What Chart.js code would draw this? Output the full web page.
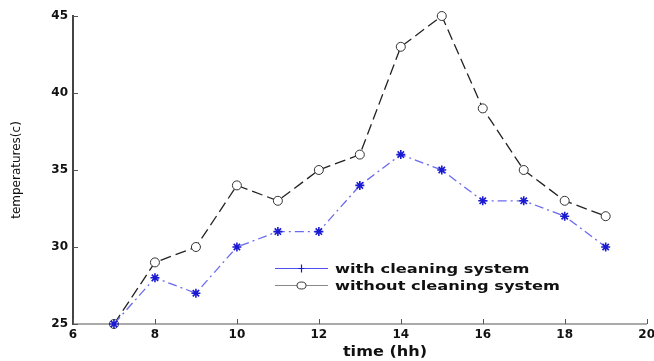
<!DOCTYPE html>
<html>
<head>
<meta charset="utf-8">
<script src="https://cdn.jsdelivr.net/npm/chart.js@4.4.1/dist/chart.umd.min.js"></script>
<style>
  html, body { margin: 0; padding: 0; background: #fff; overflow: hidden; }
  #wrap { width: 654px; height: 361px; position: relative; overflow: hidden; }
</style>
</head>
<body>
<div id="wrap"><canvas id="c" width="659" height="361"></canvas></div>
<script>
// ---- data ----
const hours = [7, 8, 9, 10, 11, 12, 13, 14, 15, 16, 17, 18, 19];
const withCleaning = [25, 28, 27, 30, 31, 31, 34, 36, 35, 33, 33, 32, 30];
const withoutCleaning = [25, 29, 30, 34, 33, 35, 36, 43, 45, 39, 35, 33, 32];
const seriesLabels = ['with cleaning system', 'without cleaning system'];
const xTitle = 'time (hh)';
const yTitle = 'temperatures(c)';

const toPoints = (xs, ys) => xs.map((x, i) => ({ x: x, y: ys[i] }));

const decorPlugin = {
  id: 'decor',
  afterDraw(chart) {
    const ctx = chart.ctx;
    const xs = chart.scales.x, yS = chart.scales.y;
    ctx.save();
    // inward tick marks
    ctx.strokeStyle = '#555';
    ctx.lineWidth = 1;
    ctx.setLineDash([]);
    xs.ticks.forEach(t => {
      const px = Math.round(xs.getPixelForValue(t.value)) + 0.5;
      ctx.beginPath(); ctx.moveTo(px, yS.bottom); ctx.lineTo(px, yS.bottom - 5); ctx.stroke();
    });
    yS.ticks.forEach(t => {
      const py = Math.round(yS.getPixelForValue(t.value)) + 0.5;
      ctx.beginPath(); ctx.moveTo(xs.left, py); ctx.lineTo(xs.left + 5, py); ctx.stroke();
    });
    // x title
    ctx.fillStyle = '#111';
    ctx.font = 'bold 14px "DejaVu Sans"';
    ctx.textBaseline = 'middle';
    ctx.textAlign = 'center';
    ctx.save();
    ctx.translate(385, 352);
    ctx.scale(1.15, 1);
    ctx.fillText(xTitle, 0, 0);
    ctx.restore();
    // legend
    const items = chart.data.datasets;
    const x0 = 275, x1 = 328, ys = [268, 285];
    items.forEach((ds, i) => {
      const y = ys[i] + 0.5;
      ctx.strokeStyle = ds.legendLine;
      ctx.lineWidth = 1;
      ctx.beginPath();
      ctx.moveTo(x0, y); ctx.lineTo(x1, y); ctx.stroke();
      const cx = (x0 + x1) / 2;
      if (ds.pointStyle === 'circle') {
        ctx.fillStyle = '#fff';
        ctx.strokeStyle = ds.pointBorderColor;
        ctx.beginPath();
        ctx.ellipse(cx, y, 4.5, 3.5, 0, 0, Math.PI * 2);
        ctx.fill(); ctx.stroke();
      } else {
        ctx.strokeStyle = ds.pointBorderColor;
        ctx.lineWidth = 1.2;
        ctx.beginPath();
        ctx.moveTo(cx - 3, y); ctx.lineTo(cx + 3, y);
        ctx.moveTo(cx, y - 4); ctx.lineTo(cx, y + 4);
        ctx.stroke();
      }
      ctx.fillStyle = '#111';
      ctx.font = 'bold 13px "DejaVu Sans"';
      ctx.textBaseline = 'middle';
      ctx.textAlign = 'left';
      ctx.save();
      ctx.translate(335, y + 1);
      ctx.scale(1.25, 1);
      ctx.fillText(ds.label, 0, 0);
      ctx.restore();
    });
    ctx.restore();
  }
};

new Chart(document.getElementById('c'), {
  type: 'line',
  data: {
    datasets: [
      {
        label: seriesLabels[0],
        data: toPoints(hours, withCleaning),
        borderColor: '#6a6af0',
        legendLine: '#5050f0',
        borderWidth: 1.3,
        borderDash: [9, 4, 2, 4],
        pointStyle: 'star',
        pointRadius: 4.5,
        pointBorderColor: '#1a1ad0',
        pointBorderWidth: 1.6,
        pointBackgroundColor: '#1a1ad0',
        tension: 0,
        clip: false
      },
      {
        label: seriesLabels[1],
        data: toPoints(hours, withoutCleaning),
        borderColor: '#222',
        legendLine: '#888',
        borderWidth: 1.3,
        borderDash: [11, 5],
        pointStyle: 'circle',
        pointRadius: 4.5,
        pointBorderColor: '#333',
        pointBorderWidth: 1,
        pointBackgroundColor: 'rgba(255,255,255,1)',
        tension: 0,
        clip: false
      }
    ]
  },
  options: {
    responsive: false,
    animation: false,
    devicePixelRatio: 1,
    layout: { padding: { top: 16, right: 0, left: 0, bottom: 0 } },
    plugins: { legend: { display: false }, tooltip: { enabled: false } },
    scales: {
      x: {
        type: 'linear',
        min: 6, max: 20,
        ticks: {
          stepSize: 2,
          color: '#111',
          font: { family: '"DejaVu Sans"', weight: 'bold', size: 12 },
          padding: 4,
          maxRotation: 0
        },
        grid: { display: false, drawOnChartArea: false, drawTicks: false },
        border: { display: true, color: '#aaa', width: 2 },
        title: { display: false },
        afterFit(scale) { scale.height = 37; }
      },
      y: {
        min: 25, max: 45,
        ticks: {
          stepSize: 5,
          color: '#111',
          font: { family: '"DejaVu Sans"', weight: 'bold', size: 12 },
          padding: 5
        },
        grid: { display: false, drawOnChartArea: false, drawTicks: false },
        border: { display: true, color: '#444', width: 2 },
        title: {
          display: true, text: yTitle, color: '#111',
          font: { family: '"DejaVu Sans"', size: 12 },
          padding: { top: 10, bottom: 0 }
        },
        afterFit(scale) { scale.width = 73; }
      }
    }
  },
  plugins: [decorPlugin]
});
</script>
</body>
</html>
